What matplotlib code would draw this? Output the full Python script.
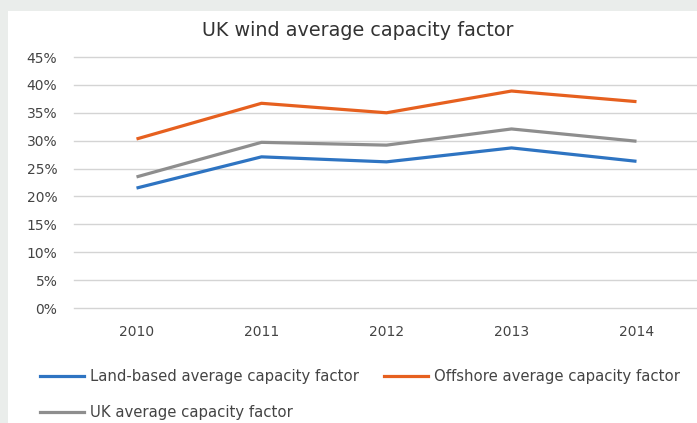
import matplotlib
matplotlib.use("Agg")
import matplotlib.pyplot as plt
from matplotlib.patches import Rectangle
from matplotlib.lines import Line2D
from matplotlib.ticker import FuncFormatter

years = ["2010", "2011", "2012", "2013", "2014"]
land = [0.215, 0.271, 0.262, 0.287, 0.263]
offshore = [0.303, 0.367, 0.350, 0.389, 0.370]
uk = [0.235, 0.297, 0.292, 0.321, 0.299]
series_names = ["Land-based average capacity factor",
                "Offshore average capacity factor",
                "UK average capacity factor"]
colors = ["#2e74c2", "#e6601f", "#8e8e8e"]
yticks = [0, 0.05, 0.10, 0.15, 0.20, 0.25, 0.30, 0.35, 0.40, 0.45]

W, H = 697, 423
fig = plt.figure(figsize=(W / 100, H / 100), dpi=100)
fig.patch.set_facecolor("#eaedeb")
fig.patches.append(Rectangle((8 / W, 0), 1, 1 - 11 / H, transform=fig.transFigure,
                             facecolor="white", edgecolor="none", zorder=-5))

ax = fig.add_axes([74 / W, 1 - 308 / H, (699 - 74) / W, (308 - 57) / H])
ax.set_zorder(2)
ax.set_facecolor("none")
x = list(range(len(years)))
for vals, c in zip([land, offshore, uk], colors):
    ax.plot(x, vals, color=c, lw=2.3, solid_capstyle="butt", zorder=3)

ax.set_xlim(-0.5, len(years) - 0.5)
ax.set_ylim(0, 0.45)
ax.set_yticks(yticks)
ax.yaxis.set_major_formatter(FuncFormatter(lambda v, p: f"{round(v * 100)}%"))
ax.set_xticks(x)
ax.set_xticklabels(years)
ax.grid(axis="y", color="#d4d4d4", lw=1.0)
for gl in ax.get_ygridlines():
    gl.set_clip_on(False)
ax.set_axisbelow(True)
for s in ax.spines.values():
    s.set_visible(False)
ax.tick_params(length=0, labelsize=10, labelcolor="#444444")
ax.tick_params(axis="y", pad=12)
ax.tick_params(axis="x", pad=12)

fig.text(358 / W, 1 - 30 / H, "UK wind average capacity factor", ha="center", va="center",
         fontsize=13.8, color="#333333")

# legend
def leg(x0, y0, c, label):
    fig.lines.append(Line2D([x0 / W, (x0 + 44) / W], [1 - y0 / H] * 2, color=c, lw=2.3,
                            transform=fig.transFigure))
    fig.text((x0 + 50) / W, 1 - y0 / H, label, ha="left", va="center", fontsize=10.7,
             color="#444444")

leg(40, 376, colors[0], series_names[0])
leg(384, 376, colors[1], series_names[1])
leg(40, 412, colors[2], series_names[2])

fig.savefig("out.png", dpi=100, facecolor=fig.get_facecolor())
